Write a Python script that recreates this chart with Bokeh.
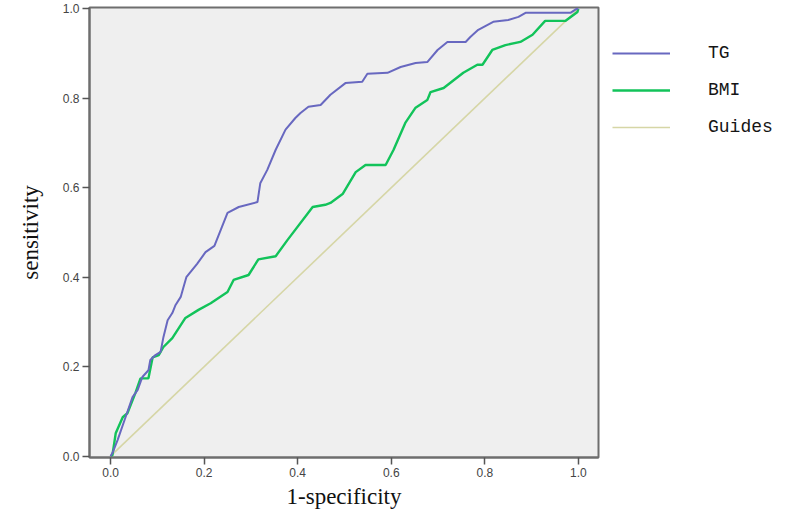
from bokeh.plotting import figure
from bokeh.models import Range1d, Legend, LegendItem, FixedTicker, CustomJSTickFormatter
from bokeh.embed import file_html
from bokeh.resources import INLINE

# ROC data
tg_fpr = [0, 0.004, 0.015, 0.032, 0.047, 0.058, 0.068, 0.081, 0.085, 0.096, 0.107, 0.113,
          0.122, 0.132, 0.139, 0.150, 0.156, 0.162, 0.185, 0.203, 0.222, 0.250, 0.274, 0.314,
          0.320, 0.335, 0.353, 0.374, 0.395, 0.406, 0.423, 0.449, 0.470, 0.502, 0.538, 0.549,
          0.592, 0.620, 0.652, 0.677, 0.699, 0.720, 0.759, 0.769, 0.786, 0.818, 0.850, 0.872,
          0.887, 0.983, 0.996, 1.0]
tg_tpr = [0, 0.007, 0.036, 0.087, 0.132, 0.148, 0.177, 0.192, 0.215, 0.226, 0.233, 0.266,
          0.304, 0.320, 0.338, 0.356, 0.378, 0.400, 0.430, 0.456, 0.470, 0.544, 0.557, 0.568,
          0.610, 0.640, 0.685, 0.730, 0.756, 0.767, 0.781, 0.785, 0.808, 0.834, 0.837, 0.855,
          0.857, 0.870, 0.879, 0.881, 0.908, 0.926, 0.926, 0.937, 0.953, 0.971, 0.975, 0.982,
          0.991, 0.991, 1.0, 1.0]

bmi_fpr = [0, 0.004, 0.011, 0.026, 0.036, 0.053, 0.064, 0.081, 0.090, 0.103, 0.113, 0.132,
           0.160, 0.188, 0.214, 0.250, 0.263, 0.295, 0.316, 0.353, 0.378, 0.432, 0.459, 0.470,
           0.496, 0.524, 0.545, 0.588, 0.605, 0.630, 0.652, 0.677, 0.684, 0.712, 0.754, 0.784,
           0.795, 0.816, 0.844, 0.876, 0.902, 0.929, 0.972, 0.998, 1.0]
bmi_tpr = [0, 0.002, 0.051, 0.087, 0.096, 0.141, 0.174, 0.174, 0.221, 0.226, 0.244, 0.264,
           0.309, 0.327, 0.342, 0.367, 0.394, 0.405, 0.440, 0.447, 0.483, 0.557, 0.562, 0.566,
           0.586, 0.635, 0.651, 0.651, 0.685, 0.745, 0.779, 0.796, 0.814, 0.823, 0.857, 0.875,
           0.875, 0.908, 0.919, 0.926, 0.942, 0.973, 0.973, 0.993, 1.0]

guide_x = [0, 1]
guide_y = [0, 1]

ticks = [0.0, 0.2, 0.4, 0.6, 0.8, 1.0]

p = figure(frame_width=509, frame_height=450, output_backend="svg", toolbar_location=None,
           x_range=Range1d(-0.045, 1.043), y_range=Range1d(-0.003, 1.003),
           min_border_left=89, min_border_right=190, min_border_top=7, min_border_bottom=55)

p.background_fill_color = "#EFEFEF"
p.border_fill_color = "white"
p.outline_line_color = "#6E6E6E"
p.outline_line_width = 2
p.xgrid.visible = False
p.ygrid.visible = False

r_guide = p.line(guide_x, guide_y, line_color="#D6D6A6", line_width=1.6)
r_bmi = p.line(bmi_fpr, bmi_tpr, line_color="#12C35A", line_width=2.4)
r_tg = p.line(tg_fpr, tg_tpr, line_color="#6868C0", line_width=2)

fmt = CustomJSTickFormatter(code="return tick.toFixed(1);")
for ax in (p.xaxis[0], p.yaxis[0]):
    ax.ticker = FixedTicker(ticks=ticks)
    ax.formatter = fmt
    ax.minor_tick_line_color = None
    ax.major_tick_in = 0
    ax.major_tick_out = 7
    ax.major_tick_line_color = "#555555"
    ax.major_tick_line_width = 1.5
    ax.axis_line_color = "#6E6E6E"
    ax.axis_line_width = 2
    ax.major_label_text_font = "Liberation Sans"
    ax.major_label_text_font_size = "12px"
    ax.major_label_text_color = "#444444"
    ax.axis_label_text_font = "Liberation Serif"
    ax.axis_label_text_font_size = "23px"
    ax.axis_label_text_font_style = "normal"
    ax.axis_label_text_color = "#111111"

p.xaxis.axis_label = "1-specificity"
p.yaxis.axis_label = "sensitivity"
p.xaxis.major_label_standoff = 3
p.xaxis.axis_label_standoff = 4
p.yaxis.major_label_standoff = 3
p.yaxis.axis_label_standoff = 17

legend = Legend(items=[LegendItem(label="TG", renderers=[r_tg]),
                       LegendItem(label="BMI", renderers=[r_bmi]),
                       LegendItem(label="Guides", renderers=[r_guide])],
                location=(14, 320))
legend.glyph_width = 58
legend.glyph_height = 20
legend.label_height = 20
legend.spacing = 17
legend.padding = 0
legend.margin = 0
legend.label_standoff = 38
legend.border_line_color = None
legend.background_fill_alpha = 0
legend.label_text_font = "Liberation Mono"
legend.label_text_font_size = "18px"
legend.label_text_color = "#151515"
p.add_layout(legend, "right")

open("out.html", "w").write(file_html(p, INLINE))
